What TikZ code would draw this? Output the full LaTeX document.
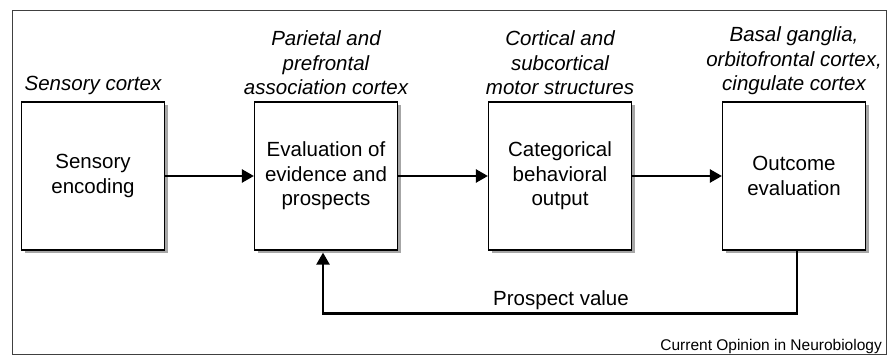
\documentclass[tikz,border=0pt]{standalone}
\usepackage{fontspec}
\setmainfont{Liberation Sans}
\usetikzlibrary{arrows.meta, shadows, calc}

\begin{document}
\begin{tikzpicture}[x=1pt, y=-1pt,
        box/.style={draw, line width=1.2pt, fill=white, minimum width=143pt, minimum height=148pt, align=center,
            font=\fontsize{20.5}{24.5}\selectfont,
            drop shadow={shadow xshift=3pt, shadow yshift=-3pt, fill=black!35, opacity=1}},
        area/.style={anchor=south, inner sep=0pt, align=center, font=\fontsize{20.5}{24.5}\selectfont\itshape},
        flow/.style={line width=2.4pt, -{Triangle[length=12pt, width=13pt]}}]
        \useasboundingbox (0,0) rectangle (896,358);
        \draw[line width=1pt, black!75] (12,11) rectangle (886,354);

        \node[box] at (93,176) (sens) {Sensory\\encoding};
        \node[box] at (326,176) (eval) {Evaluation of\\evidence and\\prospects};
        \node[box] at (560,176) (cat) {Categorical\\behavioral\\output};
        \node[box] at (794,176) (outc) {Outcome\\evaluation};

        \node[area] at (93,95) (sensarea) {Sensory cortex};
        \node[area] at (326,95) (evalarea) {Parietal and\\prefrontal\\association cortex};
        \node[area] at (560,95) (catarea) {Cortical and\\subcortical\\motor structures};
        \node[area] at (794,95) (outcarea) {Basal ganglia,\\orbitofrontal cortex,\\cingulate cortex};

        \draw[flow] (sens) -- (eval);
        \draw[flow] (eval) -- (cat);
        \draw[flow] (cat) -- (outc);

        \draw[flow] ([xshift=3pt]outc.south) -- ++(0,63) -| ([xshift=-3pt, yshift=-2pt]eval.south);
        \node[anchor=base, inner sep=0pt, font=\fontsize{20.5}{24.5}\selectfont] at (561,305) (pv) {Prospect value};

        \node[anchor=base east, inner sep=0pt, font=\fontsize{15.5}{18}\selectfont] at (882,350) (credit) {Current Opinion in Neurobiology};
    \end{tikzpicture}
\end{document}
